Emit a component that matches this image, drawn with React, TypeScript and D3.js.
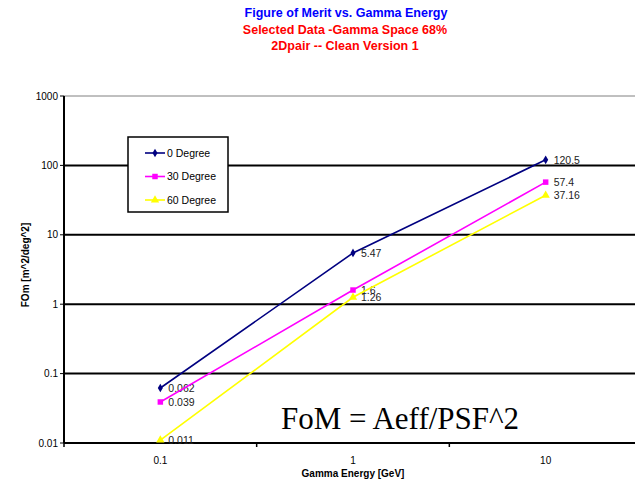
import React from "react";
import * as d3 from "d3";

// values
const energies = ["0.1", "1", "10"];
const deg0 = [0.062, 5.47, 120.5];
const deg30 = [0.039, 1.6, 57.4];
const deg60 = [0.011, 1.26, 37.16];
const yTicks = [0.01, 0.1, 1, 10, 100, 1000];
const seriesNames = ["0 Degree", "30 Degree", "60 Degree"];
const seriesColors = ["#000080", "#FF00FF", "#FFFF00"];
const seriesShapes = [d3.symbolDiamond, d3.symbolSquare, d3.symbolTriangle];
const seriesSizes = [22, 30, 30];
const allSeries = [deg0, deg30, deg60];

const W = 635;
const H = 487;
const margin = { left: 64, right: -7, top: 96, bottom: 44 };
const font = "'Liberation Sans', Arial, sans-serif";

const App = () => {
  const x = d3
    .scaleBand()
    .domain(energies)
    .range([margin.left, W - margin.right]);
  const y = d3
    .scaleLog()
    .domain([0.01, 1000])
    .range([H - margin.bottom, margin.top]);
  const cx = (c) => x(c) + x.bandwidth() / 2;
  const line = d3
    .line()
    .x((d, i) => cx(energies[i]))
    .y((d) => y(d));
  const bottom = H - margin.bottom;
  const tickFmt = (v) => (v >= 1 ? String(v) : String(+v.toPrecision(1)));

  return (
    <svg
      width={W}
      height={H}
      style={{ position: "absolute", left: 0, top: 0, background: "#fff" }}
      fontFamily={font}
    >
      {/* titles */}
      <g textAnchor="middle" fontWeight="bold" fontSize={12.5}>
        <text x={346} y={17} fill="#0000FF">Figure of Merit vs. Gamma Energy</text>
        <text x={345} y={34} fill="#FF0000">Selected Data -Gamma Space 68%</text>
        <text x={345} y={50} fill="#FF0000">2Dpair -- Clean Version 1</text>
      </g>

      {/* gridlines */}
      {yTicks.map((t) => (
        <line
          key={t}
          x1={margin.left}
          x2={W}
          y1={y(t)}
          y2={y(t)}
          stroke={t === 1000 ? "#808080" : "#000"}
          strokeWidth={t === 1000 ? 1 : 2}
        />
      ))}

      {/* y axis */}
      <line x1={margin.left} x2={margin.left} y1={margin.top} y2={bottom} stroke="#000" strokeWidth={2} />
      {yTicks.map((t) => (
        <g key={"yt" + t}>
          <line x1={margin.left - 4} x2={margin.left} y1={y(t)} y2={y(t)} stroke="#000" />
          <text x={margin.left - 6} y={y(t) + 3.5} fontSize={10} textAnchor="end">
            {tickFmt(t)}
          </text>
        </g>
      ))}
      <text
        transform={`translate(29,265) rotate(-90)`}
        textAnchor="middle"
        fontSize={10}
        fontWeight="bold"
      >
        FOm [m^2/deg^2]
      </text>

      {/* x axis */}
      {energies.map((c) => (
        <g key={"xt" + c}>
          <line x1={x(c)} x2={x(c)} y1={bottom} y2={bottom + 4} stroke="#000" strokeWidth={1.5} />
          <text x={cx(c)} y={bottom + 21} fontSize={10} textAnchor="middle">
            {c}
          </text>
        </g>
      ))}
      <text x={cx("1")} y={H - 10} fontSize={10} fontWeight="bold" textAnchor="middle">
        Gamma Energy [GeV]
      </text>

      {/* series */}
      {allSeries.map((s, si) => (
        <g key={"s" + si}>
          <path d={line(s)} fill="none" stroke={seriesColors[si]} strokeWidth={1.6} />
          {s.map((v, i) => (
            <g key={i}>
              <path
                transform={`translate(${cx(energies[i])},${y(v)})`}
                d={d3.symbol(seriesShapes[si], seriesSizes[si])()}
                fill={seriesColors[si]}
              />
              <text x={cx(energies[i]) + 8} y={y(v) + 4} fontSize={10.5} fill="#222">
                {v}
              </text>
            </g>
          ))}
        </g>
      ))}

      {/* legend */}
      <rect x={128} y={137} width={100} height={75} fill="#fff" stroke="#000" strokeWidth={1.5} />
      {seriesNames.map((n, i) => {
        const ly = 153 + i * 23.5;
        return (
          <g key={n}>
            <line x1={145} x2={165} y1={ly} y2={ly} stroke={seriesColors[i]} strokeWidth={1.6} />
            <path
              transform={`translate(155,${ly})`}
              d={d3.symbol(seriesShapes[i], seriesSizes[i])()}
              fill={seriesColors[i]}
            />
            <text x={167} y={ly + 3.5} fontSize={10.5}>
              {n}
            </text>
          </g>
        );
      })}

      <text x={400} y={429} textAnchor="middle" fontSize={31} fontFamily="'Liberation Serif', 'Times New Roman', serif">
        FoM = Aeff/PSF^2
      </text>
    </svg>
  );
};

export default App;
